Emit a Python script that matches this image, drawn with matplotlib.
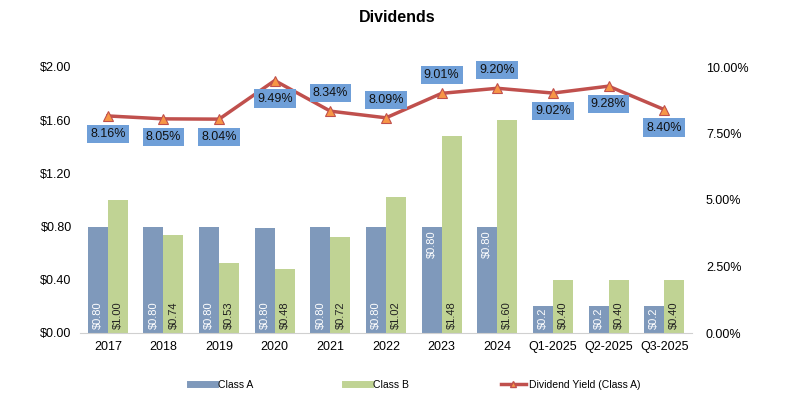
import matplotlib
matplotlib.use("Agg")
import matplotlib.pyplot as plt
from matplotlib.lines import Line2D
import numpy as np

plt.rcParams['font.family'] = ['Liberation Sans', 'DejaVu Sans']

categories = ["2017", "2018", "2019", "2020", "2021", "2022", "2023", "2024", "Q1-2025", "Q2-2025", "Q3-2025"]
class_a = [0.80, 0.80, 0.80, 0.79, 0.80, 0.80, 0.80, 0.80, 0.20, 0.20, 0.20]
class_b = [1.00, 0.74, 0.53, 0.48, 0.72, 1.02, 1.48, 1.60, 0.40, 0.40, 0.40]
class_a_labels = ["$0.80"] * 8 + ["$0.2"] * 3
class_a_label_top = [False] * 6 + [True, True] + [False] * 3
yield_a = [8.16, 8.05, 8.04, 9.49, 8.34, 8.09, 9.01, 9.20, 9.02, 9.28, 8.40]
label_above = [False, False, False, False, True, True, True, True, False, False, False]
left_ticks = [0.0, 0.4, 0.8, 1.2, 1.6, 2.0]
right_ticks = [0.0, 2.5, 5.0, 7.5, 10.0]

fig = plt.figure(figsize=(7.91, 3.99), dpi=100)
ax = fig.add_axes([80/791, 1-333/399, 612/791, 266/399])
x = np.arange(len(categories))
w = 0.36
ca = "#7f99bb"
cb = "#c0d394"
ax.bar(x - w/2, class_a, width=w, color=ca, zorder=2)
ax.bar(x + w/2, class_b, width=w, color=cb, zorder=2)
for i in range(len(categories)):
    if class_a_label_top[i]:
        ax.text(x[i] - w/2, class_a[i] - 0.03, class_a_labels[i], rotation=90, ha='center', va='top',
                fontsize=8, color='white', zorder=4)
    else:
        ax.text(x[i] - w/2, 0.03, class_a_labels[i], rotation=90, ha='center', va='bottom',
                fontsize=8, color='white', zorder=4)
    ax.text(x[i] + w/2, 0.03, f"${class_b[i]:.2f}", rotation=90, ha='center', va='bottom',
            fontsize=8, color='#222222', zorder=4)

ax.set_xlim(-0.5, len(categories) - 0.5)
ax.set_ylim(0, 2.0)
ax.set_xticks(x)
ax.set_xticklabels(categories, fontsize=9)
ax.set_yticks(left_ticks)
ax.set_yticklabels([f"${v:.2f}" for v in left_ticks], fontsize=9)
for s in ['top', 'left', 'right']:
    ax.spines[s].set_visible(False)
ax.spines['bottom'].set_color('#d0d0d0')
ax.tick_params(axis='both', length=0, pad=6)

ax2 = ax.twinx()
ax2.set_ylim(0, 10.0)
ax2.set_yticks(right_ticks)
ax2.set_yticklabels([f"{v:.2f}%" for v in right_ticks], fontsize=9)
for s in ['top', 'left', 'right', 'bottom']:
    ax2.spines[s].set_visible(False)
ax2.tick_params(axis='y', length=0, pad=10)
ax2.plot(x, yield_a, color="#c0504d", lw=2.5, marker='^', markersize=7.5,
         markerfacecolor="#f79646", markeredgecolor="#c0504d", markeredgewidth=0.8,
         zorder=5, clip_on=False)
for i, v in enumerate(yield_a):
    off = 13 if label_above[i] else -13
    ax2.annotate(f"{v:.2f}%", (x[i], v), xytext=(0, off), textcoords='offset points',
                 ha='center', va='center', fontsize=9, color='#111111',
                 bbox=dict(boxstyle='square,pad=0.25', fc='#6f9fd8', ec='none'), zorder=6)

fig.text(0.502, 1-18/399, "Dividends", ha='center', va='center', fontsize=11.5, fontweight='bold')

handles = [Line2D([0], [0], color=ca, lw=5),
           Line2D([0], [0], color=cb, lw=5),
           Line2D([0], [0], color="#c0504d", lw=2.5, marker='^', markersize=5,
                  markerfacecolor="#f79646", markeredgecolor="#c0504d")]
fig.legend(handles, ["Class A", "Class B", "Dividend Yield (Class A)"], loc='center',
           bbox_to_anchor=(0.525, 1-385/399), ncol=3, frameon=False, fontsize=7.5,
           columnspacing=8.8, handlelength=2.4, handletextpad=0.3)

fig.savefig("out.png", dpi=100)
